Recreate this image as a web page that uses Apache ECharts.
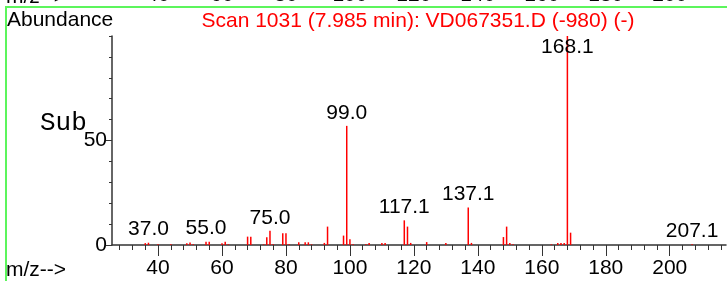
<!DOCTYPE html>
<html>
<head>
<meta charset="utf-8">
<script src="https://cdn.jsdelivr.net/npm/echarts@6/dist/echarts.min.js"></script>
<style>
html, body { margin: 0; padding: 0; background: #fff; }
#chart { width: 727px; height: 281px; }
</style>
</head>
<body>
<div id="chart"></div>
<script>
// spectrum: m/z and relative abundance
const mz = [36, 37, 40, 44, 49, 50, 51, 55, 56, 60, 61, 62, 68, 69, 73, 74, 75, 76, 79, 80, 81,
  84, 86, 87, 88, 92, 93, 98, 99, 100, 101, 105, 106, 110, 111, 117, 118, 119, 124, 130,
  137, 138, 148, 149, 150, 151, 163, 165, 166, 167, 168, 169, 207];
const abundance = [0.9, 1.1, 0.3, 0.3, 0.8, 1.2, 0.4, 1.6, 1.6, 0.8, 1.6, 0.3, 4.0, 4.0, 0.3, 3.7, 6.8, 0.3, 5.6, 5.6, 0.3,
  1.3, 1.3, 1.3, 0.3, 1.0, 8.8, 4.5, 57, 2.7, 0.3, 0.4, 1.0, 1.0, 1.0, 11.8, 8.8, 1.0, 1.4, 1.0,
  18.0, 1.0, 3.8, 8.8, 1.0, 0.3, 0.3, 1.0, 1.0, 1.0, 100, 5.9, 0.3];

// labelled peaks
const peakMz = [37, 55, 75, 99, 117, 137, 168, 207];
const peakAbundance = [1.1, 1.6, 6.8, 57, 11.8, 18.0, 100, 0.3];
const peakLabels = ["37.0", "55.0", "75.0", "99.0", "117.1", "137.1", "168.1", "207.1"];

// axes
const xTicks = [28, 32, 36, 40, 44, 48, 52, 56, 60, 64, 68, 72, 76, 80, 84, 88, 92, 96, 100, 104, 108,
  112, 116, 120, 124, 128, 132, 136, 140, 144, 148, 152, 156, 160, 164, 168, 172, 176, 180, 184,
  188, 192, 196, 200, 204, 208, 212, 216];
const xTickLabels = [40, 60, 80, 100, 120, 140, 160, 180, 200];
const yTicks = [0, 10, 20, 30, 40, 50, 60, 70, 80, 90, 100];
const yTickLabels = [0, 50];

const titleText = "Scan 1031 (7.985 min): VD067351.D (-980) (-)";

const font = "Liberation Sans";
const axisColor = "#333";
const xMin = 25.6, xMax = 217.6;

const chart = echarts.init(document.getElementById("chart"));

const options = {
  animation: false,
  grid: { left: 112, right: 1, top: 36, bottom: 36, outerBoundsMode: "none" },
  xAxis: [{
    type: "value", min: xMin, max: xMax, position: "bottom",
    axisLine: { show: true, onZero: false, lineStyle: { color: axisColor, width: 1.5 } },
    axisTick: { show: true, customValues: xTicks, length: 5, lineStyle: { color: axisColor } },
    axisLabel: { customValues: xTickLabels, fontSize: 21, color: "#000", margin: 13, fontFamily: font },
    splitLine: { show: false }
  }, {
    // longer ticks under the labelled values
    type: "value", min: xMin, max: xMax, position: "bottom",
    axisLine: { show: false },
    axisTick: { show: true, customValues: xTickLabels, length: 11, lineStyle: { color: axisColor } },
    axisLabel: { show: false },
    splitLine: { show: false }
  }, {
    // the cut-off axis of the panel above
    type: "value", min: xMin, max: xMax, position: "top", offset: 30,
    axisLine: { show: false },
    axisTick: { show: false },
    axisLabel: { customValues: xTickLabels, fontSize: 21, color: "#000", margin: 0, fontFamily: font },
    splitLine: { show: false }
  }],
  yAxis: [{
    type: "value", min: 0, max: 100, position: "left",
    axisLine: { show: true, lineStyle: { color: axisColor, width: 1.5 } },
    axisTick: { show: true, customValues: yTicks, length: 3, lineStyle: { color: axisColor } },
    axisLabel: { customValues: yTickLabels, fontSize: 21, color: "#000", margin: 5, fontFamily: font },
    splitLine: { show: false }
  }, {
    type: "value", min: 0, max: 100, position: "left",
    axisLine: { show: false },
    axisTick: { show: true, customValues: yTickLabels, length: 6, lineStyle: { color: axisColor } },
    axisLabel: { show: false },
    splitLine: { show: false }
  }],
  graphic: [
    { type: "line", shape: { x1: 5, y1: 7, x2: 727, y2: 7 }, style: { stroke: "#5cf55c", lineWidth: 2 } },
    { type: "line", shape: { x1: 6, y1: 6, x2: 6, y2: 281 }, style: { stroke: "#5cf55c", lineWidth: 2 } },
    { type: "text", x: 7, y: 20, style: { text: "Abundance", font: "21px " + font, fill: "#000", verticalAlign: "middle" } },
    { type: "text", x: 418, y: 21, style: { text: titleText, font: "21px " + font, fill: "#ff0000", align: "center", verticalAlign: "middle" } },
    { type: "text", x: 40, y: 123, style: { text: "Sub", font: "26px 'Liberation Mono'", fill: "#000", verticalAlign: "middle" } },
    { type: "text", x: 6, y: 270, style: { text: "m/z-->", font: "21px " + font, fill: "#000", verticalAlign: "middle" } },
    { type: "text", x: 6, y: -3, style: { text: "m/z-->", font: "21px " + font, fill: "#000", verticalAlign: "middle" } }
  ],
  series: [{
    type: "bar",
    xAxisIndex: 0, yAxisIndex: 0,
    barWidth: 1.5,
    itemStyle: { color: "#ff0000" },
    silent: true,
    data: mz.map((m, i) => [m, abundance[i]])
  }, {
    type: "scatter",
    xAxisIndex: 0, yAxisIndex: 0,
    symbolSize: 1,
    itemStyle: { color: "transparent" },
    silent: true,
    label: {
      show: true, position: "top", distance: 2, color: "#000", opacity: 1,
      textBorderWidth: 0, fontSize: 21, fontFamily: font
    },
    // top peak label sits inside the plot
    data: peakMz.map((m, i) => ({
      value: [m, Math.min(peakAbundance[i], 88.5)],
      label: { formatter: peakLabels[i] }
    }))
  }]
};

chart.setOption(options);
</script>
</body>
</html>
